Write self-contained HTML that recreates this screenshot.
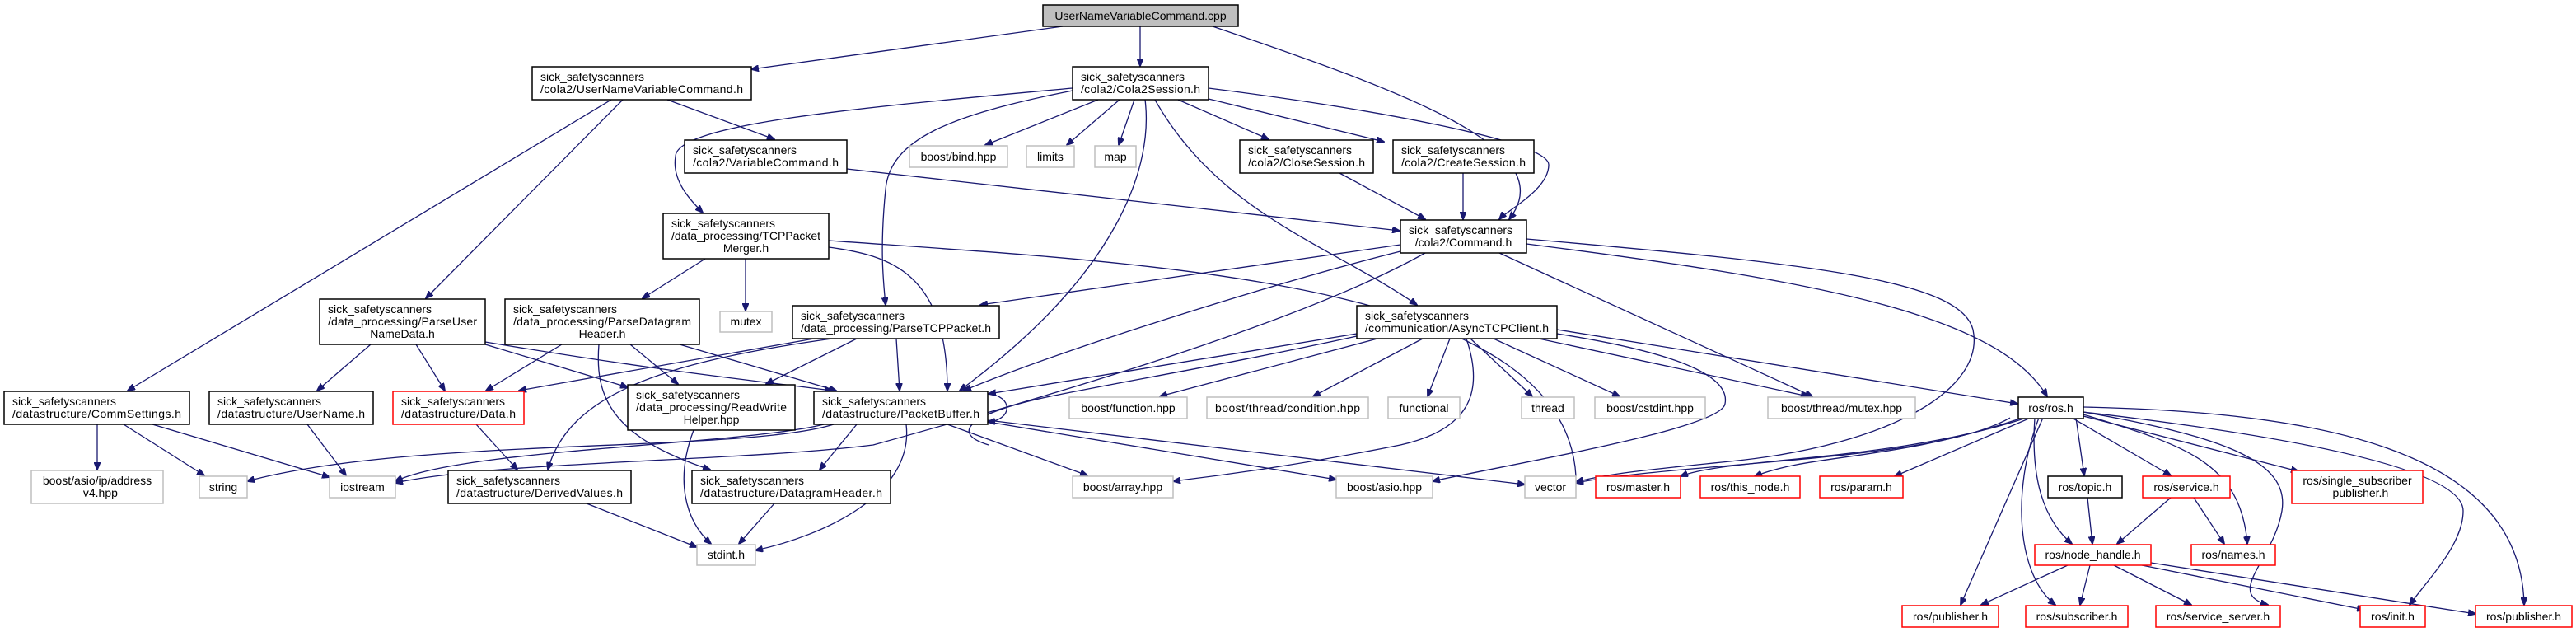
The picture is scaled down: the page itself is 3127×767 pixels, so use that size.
<!DOCTYPE html>
<html><head><meta charset="utf-8"><style>
html,body{margin:0;padding:0;background:#fff;}
svg{display:block;}
text{font-family:"Liberation Sans",sans-serif;font-size:14px;fill:#000;}
.e{fill:none;stroke:#191970;stroke-width:1.3;}
.nb{fill:#fff;stroke:#000;stroke-width:1.5;}
.ng{fill:#fff;stroke:#bfbfbf;stroke-width:1.5;}
.nr{fill:#fff;stroke:#ff0000;stroke-width:1.5;}
</style></head><body>
<svg width="3127" height="767" viewBox="0 0 3127 767" xmlns="http://www.w3.org/2000/svg">
<defs><marker id="a" markerWidth="10" markerHeight="8" refX="9" refY="4" orient="auto" markerUnits="userSpaceOnUse"><path d="M0,0 L10,4 L0,8 z" fill="#191970" stroke="#191970"/></marker></defs>
<g class="e" marker-end="url(#a)">
<path d="M1290,32 L912,84"/>
<path d="M1384,32 L1384,80"/>
<path d="M1472,32 C1700,110 1900,180 1832,266"/>
<path d="M810,121 L940,169"/>
<path d="M742,121 L155,474"/>
<path d="M756,121 L517,362"/>
<path d="M1302,107 C1050,130 820,150 820,190 C815,220 840,245 853,258"/>
<path d="M1302,110 C1150,140 1080,170 1075,230 C1068,300 1072,340 1075,370"/>
<path d="M1390,121 C1400,200 1360,330 1165,474"/>
<path d="M1333,121 L1196,176"/>
<path d="M1359,121 L1295,176"/>
<path d="M1377,121 L1358,176"/>
<path d="M1430,121 L1540,169"/>
<path d="M1467,120 L1680,172"/>
<path d="M1467,107 C1650,130 1880,170 1880,200 C1880,230 1830,255 1820,266"/>
<path d="M1402,121 C1480,260 1620,300 1720,370"/>
<path d="M1028,205 L1699,280"/>
<path d="M1626,210 L1730,266"/>
<path d="M1776,210 L1776,266"/>
<path d="M856,314 L780,362"/>
<path d="M905,314 L905,377"/>
<path d="M1006,300 C1080,310 1150,330 1150,474"/>
<path d="M1006,292 C1400,320 1900,340 1913,578" marker-end="none"/>
<path d="M1700,297 L1190,370"/>
<path d="M1700,305 C1560,340 1300,420 1170,474"/>
<path d="M1730,307 C1600,380 1350,460 1060,540 C900,560 600,560 480,586"/>
<path d="M1853,290 C2200,320 2380,340 2395,400 C2410,470 2300,540 2100,560 C2000,570 1950,575 1913,585"/>
<path d="M1853,296 C2200,340 2424,380 2485,481"/>
<path d="M1820,307 L2200,481"/>
<path d="M450,418 L385,474"/>
<path d="M505,418 L540,474"/>
<path d="M589,418 L762,470"/>
<path d="M589,415 C800,450 900,460 1010,474"/>
<path d="M682,418 L590,474"/>
<path d="M765,418 L823,466"/>
<path d="M825,418 L1015,474"/>
<path d="M727,418 C722,480 740,530 862,570"/>
<path d="M988,411 L630,474"/>
<path d="M1040,411 L930,466"/>
<path d="M1088,411 L1092,474"/>
<path d="M1010,411 C800,440 690,480 665,570"/>
<path d="M118,515 L118,570"/>
<path d="M150,515 L248,577"/>
<path d="M185,515 L400,579"/>
<path d="M373,515 L420,577"/>
<path d="M578,515 L628,570"/>
<path d="M842,522 C820,580 830,630 863,660"/>
<path d="M712,611 L846,664"/>
<path d="M940,611 L897,660"/>
<path d="M1199,478 C1230,480 1230,510 1199,512"/>
<path d="M1040,515 L995,570"/>
<path d="M1100,515 C1110,600 1000,650 917,668"/>
<path d="M1012,515 C900,550 500,530 300,584"/>
<path d="M1000,515 C900,540 560,545 480,584"/>
<path d="M1150,515 L1320,577"/>
<path d="M1199,512 L1622,582"/>
<path d="M1199,510 L1851,588"/>
<path d="M1647,405 L1200,478"/>
<path d="M1647,408 C1500,440 1380,460 1280,480 C1180,500 1150,525 1200,540" marker-end="none"/>
<path d="M1672,411 L1408,481"/>
<path d="M1727,411 L1594,481"/>
<path d="M1760,411 L1733,481"/>
<path d="M1785,411 L1860,481"/>
<path d="M1813,411 L1966,481"/>
<path d="M1868,411 L2195,481"/>
<path d="M1780,411 C1800,470 1790,520 1700,540 C1600,560 1500,575 1424,584"/>
<path d="M1890,405 C2050,430 2100,460 2094,490 C2090,520 1850,560 1739,584"/>
<path d="M1890,400 L2449,490"/>
<path d="M2460,507 C2300,560 2100,555 2040,578"/>
<path d="M2455,507 C2300,560 2200,550 2130,578"/>
<path d="M2465,507 L2300,578"/>
<path d="M2520,507 L2530,577"/>
<path d="M2515,507 L2635,577"/>
<path d="M2529,505 L2790,572"/>
<path d="M2529,503 C2650,540 2720,560 2728,660"/>
<path d="M2470,507 C2465,580 2480,630 2515,660"/>
<path d="M2480,507 L2380,734"/>
<path d="M2475,507 C2440,600 2450,700 2495,734"/>
<path d="M2529,500 C2700,530 2780,560 2770,620 C2760,680 2700,720 2753,734"/>
<path d="M2529,500 C2700,520 2990,560 2990,620 C2990,660 2950,700 2925,734"/>
<path d="M2529,494 C2800,500 3060,540 3064,734"/>
<path d="M2440,507 C2350,560 2050,560 1913,586"/>
<path d="M2534,604 L2540,660"/>
<path d="M2635,604 L2570,660"/>
<path d="M2663,604 L2700,660"/>
<path d="M2510,686 L2405,734"/>
<path d="M2537,686 L2525,734"/>
<path d="M2566,686 L2660,734"/>
<path d="M2600,686 L2870,740"/>
<path d="M2611,683 L3005,745"/>
</g>
<rect x="1266" y="6" width="237" height="26" fill="#bfbfbf" stroke="#000" stroke-width="1.5"/><text x="1384.5" y="24" text-anchor="middle">UserNameVariableCommand.cpp</text>
<g>
<rect class="nb" x="646" y="81" width="266" height="40"/><text x="656" y="98">sick_safetyscanners</text><text x="656" y="113" textLength="246">/cola2/UserNameVariableCommand.h</text>
<rect class="nb" x="1302" y="81" width="165" height="40"/><text x="1312" y="98">sick_safetyscanners</text><text x="1312" y="113" textLength="145">/cola2/Cola2Session.h</text>
<rect class="nb" x="831" y="170" width="197" height="40"/><text x="841" y="187">sick_safetyscanners</text><text x="841" y="202" textLength="177">/cola2/VariableCommand.h</text>
<rect class="ng" x="1104" y="177" width="119" height="26"/><text x="1163.5" y="195" text-anchor="middle">boost/bind.hpp</text>
<rect class="ng" x="1246" y="177" width="58" height="26"/><text x="1275" y="195" text-anchor="middle">limits</text>
<rect class="ng" x="1329" y="177" width="50" height="26"/><text x="1354" y="195" text-anchor="middle">map</text>
<rect class="nb" x="1505" y="170" width="162" height="40"/><text x="1515" y="187">sick_safetyscanners</text><text x="1515" y="202" textLength="142">/cola2/CloseSession.h</text>
<rect class="nb" x="1691" y="170" width="171" height="40"/><text x="1701" y="187">sick_safetyscanners</text><text x="1701" y="202" textLength="151">/cola2/CreateSession.h</text>
<rect class="nb" x="805" y="259" width="201" height="55"/><text x="815" y="276">sick_safetyscanners</text><text x="815" y="291" textLength="181">/data_processing/TCPPacket</text><text x="905.5" y="306" text-anchor="middle">Merger.h</text>
<rect class="nb" x="1700" y="267" width="153" height="40"/><text x="1710" y="284">sick_safetyscanners</text><text x="1776.5" y="299" text-anchor="middle">/cola2/Command.h</text>
<rect class="nb" x="388" y="363" width="201" height="55"/><text x="398" y="380">sick_safetyscanners</text><text x="398" y="395" textLength="181">/data_processing/ParseUser</text><text x="488.5" y="410" text-anchor="middle">NameData.h</text>
<rect class="nb" x="613" y="363" width="236" height="55"/><text x="623" y="380">sick_safetyscanners</text><text x="623" y="395" textLength="216">/data_processing/ParseDatagram</text><text x="731" y="410" text-anchor="middle">Header.h</text>
<rect class="ng" x="874" y="378" width="63" height="25"/><text x="905.5" y="395" text-anchor="middle">mutex</text>
<rect class="nb" x="962" y="371" width="251" height="40"/><text x="972" y="388">sick_safetyscanners</text><text x="972" y="403" textLength="231">/data_processing/ParseTCPPacket.h</text>
<rect class="nb" x="1647" y="371" width="243" height="40"/><text x="1657" y="388">sick_safetyscanners</text><text x="1657" y="403" textLength="223">/communication/AsyncTCPClient.h</text>
<rect class="nb" x="5" y="475" width="225" height="40"/><text x="15" y="492">sick_safetyscanners</text><text x="15" y="507" textLength="205">/datastructure/CommSettings.h</text>
<rect class="nb" x="254" y="475" width="199" height="40"/><text x="264" y="492">sick_safetyscanners</text><text x="264" y="507" textLength="179">/datastructure/UserName.h</text>
<rect class="nr" x="477" y="475" width="159" height="40"/><text x="487" y="492">sick_safetyscanners</text><text x="487" y="507" textLength="139">/datastructure/Data.h</text>
<rect class="nb" x="762" y="467" width="203" height="55"/><text x="772" y="484">sick_safetyscanners</text><text x="772" y="499" textLength="183">/data_processing/ReadWrite</text><text x="863.5" y="514" text-anchor="middle">Helper.hpp</text>
<rect class="nb" x="988" y="475" width="211" height="40"/><text x="998" y="492">sick_safetyscanners</text><text x="998" y="507" textLength="191">/datastructure/PacketBuffer.h</text>
<rect class="ng" x="1298" y="482" width="143" height="26"/><text x="1369.5" y="500" text-anchor="middle">boost/function.hpp</text>
<rect class="ng" x="1465" y="482" width="196" height="26"/><text x="1563" y="500" text-anchor="middle" textLength="176">boost/thread/condition.hpp</text>
<rect class="ng" x="1685" y="482" width="87" height="26"/><text x="1728.5" y="500" text-anchor="middle">functional</text>
<rect class="ng" x="1847" y="482" width="64" height="26"/><text x="1879" y="500" text-anchor="middle">thread</text>
<rect class="ng" x="1936" y="482" width="134" height="26"/><text x="2003" y="500" text-anchor="middle">boost/cstdint.hpp</text>
<rect class="ng" x="2146" y="482" width="179" height="26"/><text x="2235.5" y="500" text-anchor="middle">boost/thread/mutex.hpp</text>
<rect class="nb" x="2450" y="482" width="79" height="26"/><text x="2489.5" y="500" text-anchor="middle">ros/ros.h</text>
<rect class="ng" x="38" y="571" width="160" height="40"/><text x="118" y="588" text-anchor="middle">boost/asio/ip/address</text><text x="118" y="603" text-anchor="middle">_v4.hpp</text>
<rect class="ng" x="242" y="578" width="58" height="26"/><text x="271" y="596" text-anchor="middle">string</text>
<rect class="ng" x="400" y="578" width="80" height="26"/><text x="440" y="596" text-anchor="middle">iostream</text>
<rect class="nb" x="544" y="571" width="222" height="40"/><text x="554" y="588">sick_safetyscanners</text><text x="554" y="603" textLength="202">/datastructure/DerivedValues.h</text>
<rect class="nb" x="840" y="571" width="241" height="40"/><text x="850" y="588">sick_safetyscanners</text><text x="850" y="603" textLength="221">/datastructure/DatagramHeader.h</text>
<rect class="ng" x="1302" y="578" width="122" height="26"/><text x="1363" y="596" text-anchor="middle">boost/array.hpp</text>
<rect class="ng" x="1622" y="578" width="117" height="26"/><text x="1680.5" y="596" text-anchor="middle">boost/asio.hpp</text>
<rect class="ng" x="1851" y="578" width="62" height="26"/><text x="1882" y="596" text-anchor="middle">vector</text>
<rect class="nr" x="1937" y="578" width="103" height="26"/><text x="1988.5" y="596" text-anchor="middle">ros/master.h</text>
<rect class="nr" x="2064" y="578" width="121" height="26"/><text x="2124.5" y="596" text-anchor="middle">ros/this_node.h</text>
<rect class="nr" x="2209" y="578" width="101" height="26"/><text x="2259.5" y="596" text-anchor="middle">ros/param.h</text>
<rect class="nb" x="2486" y="578" width="90" height="26"/><text x="2531" y="596" text-anchor="middle">ros/topic.h</text>
<rect class="nr" x="2601" y="578" width="106" height="26"/><text x="2654" y="596" text-anchor="middle">ros/service.h</text>
<rect class="nr" x="2782" y="571" width="159" height="40"/><text x="2861.5" y="588" text-anchor="middle">ros/single_subscriber</text><text x="2861.5" y="603" text-anchor="middle">_publisher.h</text>
<rect class="ng" x="846" y="661" width="71" height="25"/><text x="881.5" y="678" text-anchor="middle">stdint.h</text>
<rect class="nr" x="2470" y="661" width="141" height="25"/><text x="2540.5" y="678" text-anchor="middle">ros/node_handle.h</text>
<rect class="nr" x="2660" y="661" width="102" height="25"/><text x="2711" y="678" text-anchor="middle">ros/names.h</text>
<rect class="nr" x="2309" y="735" width="117" height="26"/><text x="2367.5" y="753" text-anchor="middle">ros/publisher.h</text>
<rect class="nr" x="2459" y="735" width="124" height="26"/><text x="2521" y="753" text-anchor="middle">ros/subscriber.h</text>
<rect class="nr" x="2617" y="735" width="151" height="26"/><text x="2692.5" y="753" text-anchor="middle">ros/service_server.h</text>
<rect class="nr" x="2865" y="735" width="79" height="26"/><text x="2904.5" y="753" text-anchor="middle">ros/init.h</text>
<rect class="nr" x="3005" y="735" width="117" height="26"/><text x="3063.5" y="753" text-anchor="middle">ros/publisher.h</text>
</g>
</svg>
</body></html>
